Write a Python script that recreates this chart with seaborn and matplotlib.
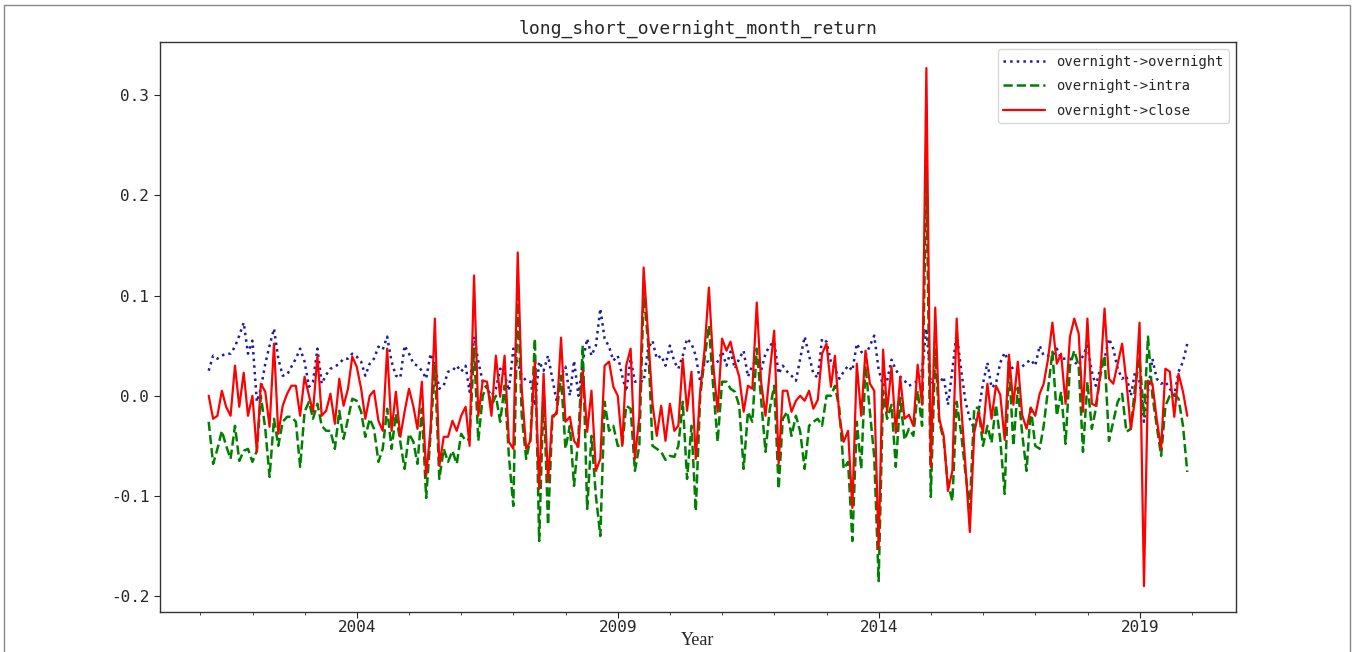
import pandas as pd
import seaborn as sns
import matplotlib.pyplot as plt
import matplotlib.dates as mdates
from matplotlib.patches import Rectangle

# monthly month-end dates, 2001-02 .. 2019-11
dates = pd.date_range("2001-02-28", periods=226, freq="ME")

# overnight->overnight
ret_overnight = [
    0.025, 0.04, 0.037, 0.04, 0.042, 0.042, 0.049, 0.06, 0.073, 0.042,
    0.055, -0.006, 0.007, 0.032, 0.05, 0.067, 0.037, 0.02, 0.021, 0.029,
    0.037, 0.047, 0.034, 0.009, 0.014, 0.047, 0.012, 0.021, 0.027, 0.029,
    0.032, 0.037, 0.037, 0.042, 0.039, 0.034, 0.02, 0.032,
    0.037, 0.049, 0.046, 0.059, 0.034, 0.02, 0.018, 0.05, 0.042, 0.032,
    0.03, 0.025, 0.017, 0.042, 0.03, 0.007, 0.01, 0.024, 0.025, 0.03,
    0.024, 0.03, 0.004, 0.059, 0.034, 0.014, 0.007, 0.0, 0.007, 0.027,
    0.022, 0.005, 0.047, 0.032, 0.02, 0.015, 0.014, -0.01,
    0.034, 0.025, 0.04, 0.017, -0.006, 0.02, 0.029, 0.0, 0.035, 0.0,
    0.034, 0.057, 0.04, 0.05, 0.087, 0.057, 0.049, 0.035, 0.04, 0.02,
    0.004, 0.037, 0.014, 0.015, 0.014, 0.047, 0.055, 0.037, 0.04, 0.03,
    0.05, 0.034, 0.027, 0.04, 0.057, 0.052, 0.04, 0.014,
    0.034, 0.034, 0.03, 0.034, 0.044, 0.03, 0.044, 0.027, 0.037, 0.045,
    0.019, 0.03, 0.037, 0.025, 0.042, 0.05, 0.054, 0.022, 0.03, 0.024,
    0.02, 0.015, 0.037, 0.059, 0.04, 0.022, 0.018, 0.057, 0.054, 0.034,
    0.027, 0.017, 0.024, 0.03, 0.025, 0.052, 0.044, 0.04,
    0.05, 0.06, 0.026, 0.01, 0.015, 0.036, 0.026, 0.019, 0.015, 0.01,
    0.012, 0.015, 0.026, 0.067, 0.012, 0.015, 0.012, 0.019, -0.009, 0.026,
    0.063, 0.026, -0.006, -0.023, -0.033, -0.016, 0.012, 0.033, 0.008, 0.012,
    0.033, 0.043, 0.033, 0.026, 0.026, 0.029, 0.033, 0.036,
    0.03, 0.05, 0.04, 0.04, 0.04, 0.047, 0.037, 0.037, 0.037, 0.034,
    0.03, 0.04, 0.05, 0.024, 0.01, 0.027, 0.037, 0.057, 0.047, 0.027,
    0.017, 0.02, 0.0, 0.024, 0.014, -0.026, 0.004, 0.037, 0.017, 0.012,
    0.014, 0.007, 0.0, 0.024, 0.034, 0.052,
]

# overnight->intra
ret_intra = [
    -0.026, -0.068, -0.053, -0.035, -0.05, -0.063, -0.03, -0.065, -0.055, -0.053,
    -0.066, -0.055, 0.0, -0.033, -0.081, -0.023, -0.05, -0.026, -0.021, -0.021,
    -0.026, -0.071, -0.016, -0.006, -0.023, -0.008, -0.03, -0.035, -0.035, -0.053,
    -0.015, -0.043, -0.023, -0.003, -0.005, -0.016, -0.041, -0.023,
    -0.033, -0.066, -0.053, -0.013, -0.053, -0.018, -0.046, -0.073, -0.038, -0.046,
    -0.068, -0.013, -0.102, -0.038, 0.03, -0.083, -0.053, -0.066, -0.055, -0.068,
    -0.038, -0.045, -0.043, 0.047, -0.045, 0.0, 0.01, -0.01, 0.0, -0.026,
    0.01, -0.06, -0.11, 0.1, -0.02, -0.063, -0.043, 0.057,
    -0.145, 0.007, -0.129, -0.023, -0.016, 0.02, -0.053, -0.03, -0.09, -0.04,
    0.05, -0.113, -0.04, -0.1, -0.14, -0.006, -0.035, -0.03, -0.05, -0.05,
    -0.01, -0.013, -0.075, -0.05, 0.103, 0.054, -0.05, -0.053, -0.056, -0.064,
    -0.06, -0.061, -0.05, -0.006, -0.083, -0.03, -0.115, 0.0,
    0.037, 0.07, 0.007, -0.046, 0.014, 0.014, 0.007, 0.004, -0.01, -0.073,
    -0.016, -0.026, 0.047, -0.003, -0.056, -0.013, 0.01, -0.093, -0.023, -0.016,
    -0.04, -0.02, -0.036, -0.073, -0.03, -0.026, -0.023, -0.03, 0.0, 0.0,
    0.01, -0.013, -0.073, -0.066, -0.145, -0.026, -0.073, 0.03,
    -0.016, -0.061, -0.185, 0.005, -0.023, -0.009, -0.071, -0.002, -0.044, -0.033,
    -0.04, 0.005, -0.03, 0.23, -0.101, 0.046, -0.026, -0.044, -0.088, -0.105,
    -0.006, -0.037, -0.078, -0.112, -0.012, -0.012, -0.05, -0.03, -0.047, -0.009,
    -0.044, -0.098, 0.033, -0.05, 0.008, -0.037, -0.075, -0.012,
    -0.05, -0.053, -0.03, 0.007, 0.044, -0.02, 0.004, -0.048, 0.03, 0.045,
    0.03, -0.056, 0.014, -0.033, -0.013, 0.02, 0.04, -0.045, -0.026, -0.006,
    0.002, -0.036, -0.033, 0.01, 0.037, -0.02, 0.059, 0.0, -0.03, -0.06,
    -0.01, 0.0, 0.002, -0.003, -0.03, -0.076,
]

# overnight->close
ret_close = [
    0.0, -0.023, -0.02, 0.005, -0.011, -0.02, 0.03, -0.011, 0.023, -0.02,
    0.0, -0.056, 0.012, 0.004, -0.031, 0.052, -0.038, -0.01, 0.002, 0.01,
    0.01, -0.02, 0.019, 0.0, -0.016, 0.04, -0.02, -0.015, 0.002, -0.028,
    0.017, -0.01, 0.007, 0.039, 0.029, 0.007, -0.023, 0.0,
    0.005, -0.025, -0.035, 0.047, -0.035, 0.004, -0.041, -0.016, 0.007, -0.011,
    -0.033, 0.014, -0.08, -0.033, 0.077, -0.07, -0.041, -0.041, -0.025, -0.035,
    -0.02, -0.011, -0.05, 0.12, -0.02, 0.015, 0.014, -0.02, 0.04, -0.001,
    0.04, -0.046, -0.053, 0.143, 0.007, -0.053, -0.045, 0.034,
    -0.093, 0.022, -0.086, -0.02, -0.018, 0.058, -0.026, -0.021, -0.045, -0.051,
    0.025, -0.036, 0.005, -0.075, -0.063, 0.03, 0.034, 0.009, 0.0, -0.05,
    0.03, 0.047, -0.063, -0.02, 0.128, 0.062, -0.008, -0.04, -0.01, -0.045,
    -0.008, -0.035, -0.03, 0.037, -0.015, 0.024, -0.063, 0.004,
    0.047, 0.108, 0.03, -0.016, 0.057, 0.045, 0.054, 0.034, 0.019, -0.016,
    0.01, 0.007, 0.093, 0.014, -0.02, 0.024, 0.065, -0.068, 0.005, 0.005,
    -0.016, -0.005, 0.0, -0.005, 0.005, -0.013, -0.004, 0.042, 0.052, 0.009,
    0.04, -0.021, -0.046, -0.035, -0.112, 0.032, -0.02, 0.045,
    0.012, 0.005, -0.153, 0.046, -0.016, 0.029, -0.037, 0.019, -0.023, -0.019,
    -0.03, 0.031, -0.009, 0.327, -0.071, 0.088, -0.023, -0.04, -0.095, -0.075,
    0.077, -0.009, -0.071, -0.136, -0.037, -0.016, -0.037, 0.012, -0.023, 0.01,
    0.001, -0.044, 0.041, -0.009, 0.034, -0.019, -0.033, -0.012,
    -0.02, 0.002, 0.012, 0.037, 0.073, 0.032, 0.042, -0.008, 0.059, 0.077,
    0.062, -0.016, 0.077, -0.008, -0.01, 0.02, 0.087, 0.017, 0.012, 0.032,
    0.052, 0.014, -0.033, -0.003, 0.073, -0.19, 0.015, 0.012, -0.023, -0.053,
    0.027, 0.024, -0.021, 0.022, 0.004, -0.02,
]

labels = ["overnight->overnight", "overnight->intra", "overnight->close"]
major_years = ["2004-01-01", "2009-01-01", "2014-01-01", "2019-01-01"]

sns.set_style("ticks")
plt.rcParams["font.family"] = ["DejaVu Sans Mono"]
plt.rcParams["axes.unicode_minus"] = False

fig = plt.figure(figsize=(13.54, 6.52), dpi=100)
ax = fig.add_axes([0.118, 0.0613, 0.795, 0.874])

sns.lineplot(x=dates, y=ret_overnight, ax=ax, color="#1c1ca8", linestyle=":",
             linewidth=1.8, label=labels[0])
sns.lineplot(x=dates, y=ret_intra, ax=ax, color="#008000", linestyle="--",
             linewidth=1.8, label=labels[1])
sns.lineplot(x=dates, y=ret_close, ax=ax, color="#ff0000", linestyle="-",
             linewidth=1.6, label=labels[2])

ax.set_xticks(pd.to_datetime(major_years))
ax.xaxis.set_major_formatter(mdates.DateFormatter("%Y"))
ax.xaxis.set_minor_locator(mdates.YearLocator(1))
ax.tick_params(axis="both", which="major", labelsize=11.5, length=4, direction="out")
ax.tick_params(axis="x", which="major", pad=1.5)
ax.tick_params(axis="x", which="minor", length=2.5)

ax.set_title("long_short_overnight_month_return", fontsize=13, pad=6)
ax.set_xlabel("Year", fontsize=13, family=["Liberation Serif"], labelpad=-2)
ax.set_ylabel("")

for s in ax.spines.values():
    s.set_color("#333333")
    s.set_linewidth(1.0)

ax.legend(loc="upper right", fontsize=10, handlelength=3, framealpha=0.8,
          labelspacing=0.75, borderaxespad=0.5)

# thin frame around the whole picture
fig.add_artist(Rectangle((0.003, -0.01), 0.994, 1.003, transform=fig.transFigure,
                         fill=False, edgecolor="#888888", linewidth=1.0))

fig.savefig("out.png", dpi=100)
